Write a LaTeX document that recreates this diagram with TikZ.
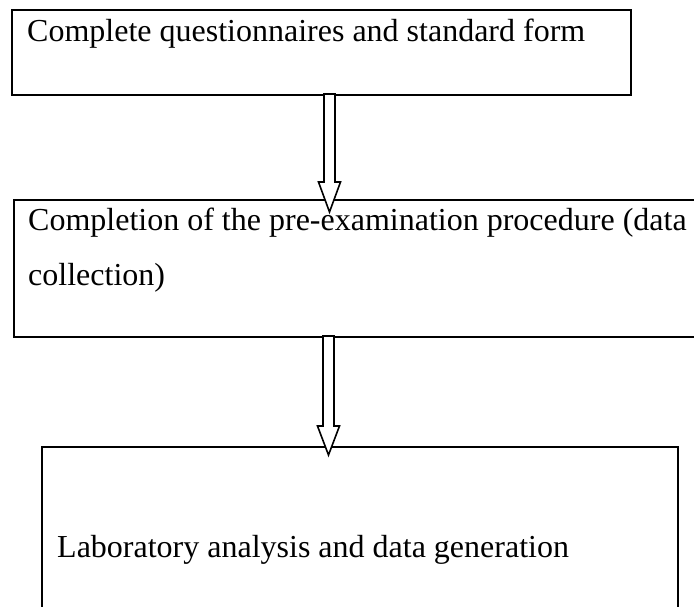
\documentclass[tikz,border=0pt]{standalone}
\usepackage{fontspec}
\setmainfont{Liberation Serif}
\usetikzlibrary{calc}
\begin{document}
\begin{tikzpicture}[x=1pt,y=-1pt,
  boxnode/.style={draw=black,line width=2.5pt,rectangle,inner sep=0pt,fill=none},
  txt/.style={anchor=base west,inner sep=0pt,font=\fontsize{32}{38}\selectfont},
  blockarrow/.style={draw=black,line width=1.6pt,fill=white,line join=miter}]
\useasboundingbox (0,0) rectangle (694,607);
\clip (0,0) rectangle (694,607);
\fill[white] (0,0) rectangle (694,607);
% boxes
\node[boxnode,minimum width=619pt,minimum height=85pt] (b1) at (321.5,52.5) {};
\node[boxnode,minimum width=706pt,minimum height=137pt] (b2) at (367,268.5) {};
\node[boxnode,minimum width=636pt,minimum height=180pt] (b3) at (360,537) {};
% texts
\node[txt] (t1) at (27,42) {Complete questionnaires and standard form};
\node[txt] (t2a) at (28,230) {Completion of the pre-examination procedure (data};
\node[txt] (t2b) at (28,285) {collection)};
\node[txt] (t3) at (57,557) {Laboratory analysis and data generation};
% arrows
\coordinate (a1s) at (329.5,94);
\coordinate (a1e) at (329.5,212);
\coordinate (a2s) at (328.5,336);
\coordinate (a2e) at (328.5,455);
\draw[blockarrow] ($(a1s)+(-5.5,0)$) -- ($(a1s)+(5.5,0)$) -- ($(a1e)+(5.5,-30)$) -- ($(a1e)+(11,-30)$) -- (a1e) -- ($(a1e)+(-11,-30)$) -- ($(a1e)+(-5.5,-30)$) -- cycle;
\draw[blockarrow] ($(a2s)+(-5.5,0)$) -- ($(a2s)+(5.5,0)$) -- ($(a2e)+(5.5,-29)$) -- ($(a2e)+(11,-29)$) -- (a2e) -- ($(a2e)+(-11,-29)$) -- ($(a2e)+(-5.5,-29)$) -- cycle;
\end{tikzpicture}
\end{document}
